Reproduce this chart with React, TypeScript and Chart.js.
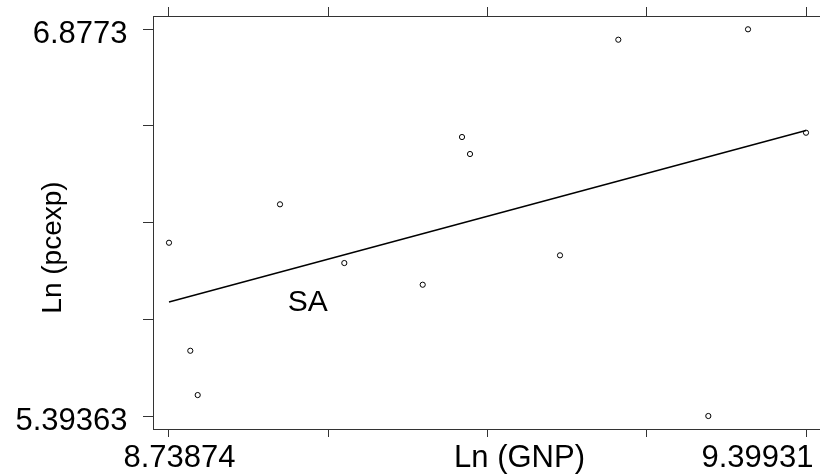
import React, { useEffect, useRef } from "react";
import { Chart, registerables } from "chart.js";

Chart.register(...registerables);

// Observations: Ln (GNP) vs Ln (pcexp)
const lnGnp = [8.73874, 8.76083, 8.7685, 8.85385, 8.92053, 9.00183, 9.04259, 9.05088, 9.14421, 9.20467, 9.29801, 9.33917, 9.39931];
const lnPcexp = [6.0584, 5.644, 5.474, 6.2058, 5.9805, 5.8973, 6.464, 6.3988, 6.0101, 6.8374, 5.39363, 6.8773, 6.4805];

// Fitted line end points
const fitX = [8.73874, 9.39931];
const fitY = [5.8309, 6.489];

// Axis ticks and labels
const xTicks = [8.73874, 8.90388, 9.06903, 9.23417, 9.39931];
const yTicks = [5.39363, 5.76455, 6.13547, 6.50638, 6.8773];
const xTickLabels = ["8.73874", "", "", "", "9.39931"];
const yTickLabels = ["5.39363", "", "", "", "6.8773"];
const xTitle = "Ln (GNP)";
const yTitle = "Ln (pcexp)";
const noteText = "SA";
const noteX = 8.88268;
const noteY = 5.7975;

const X_MIN = 8.72215;
const X_MAX = 9.41382;
const Y_MIN = 5.34377;
const Y_MAX = 6.92833;

const FONT = '"Liberation Sans", Arial, Helvetica, sans-serif';
const AXIS_COLOR = "#333";

const textPlugin = {
  id: "textPlugin",
  afterDraw(chart: any) {
    const ctx = chart.ctx;
    const xs = chart.scales.x;
    const ys = chart.scales.y;
    const area = chart.chartArea;
    ctx.save();
    ctx.fillStyle = "#000";

    // y tick labels
    ctx.font = `31px ${FONT}`;
    ctx.textAlign = "right";
    ctx.textBaseline = "alphabetic";
    yTicks.forEach((v, i) => {
      if (!yTickLabels[i]) return;
      const py = ys.getPixelForValue(v);
      ctx.fillText(yTickLabels[i], area.left - 25.5, py + 14);
    });

    // x tick labels and title
    ctx.textAlign = "center";
    const baseY = area.bottom + 37.5;
    const first = xs.getPixelForValue(xTicks[0]);
    const last = xs.getPixelForValue(xTicks[xTicks.length - 1]);
    const mid = xs.getPixelForValue(xTicks[2]);
    ctx.fillText(xTickLabels[0], first + 10.5, baseY);
    ctx.fillText(xTickLabels[xTickLabels.length - 1], last - 48.5, baseY);
    ctx.fillText(xTitle, mid + 32, baseY);

    // y title
    ctx.save();
    ctx.font = `28px ${FONT}`;
    ctx.translate(61, (area.top + area.bottom) / 2 + 25);
    ctx.rotate(-Math.PI / 2);
    ctx.textAlign = "center";
    ctx.fillText(yTitle, 0, 0);
    ctx.restore();

    // annotation
    ctx.font = `30px ${FONT}`;
    ctx.textAlign = "center";
    ctx.fillText(noteText, xs.getPixelForValue(noteX), ys.getPixelForValue(noteY));

    ctx.restore();
  },
};

export default function App() {
  const ref = useRef<HTMLCanvasElement | null>(null);

  useEffect(() => {
    if (!ref.current) return;
    const tickSetter = (vals: number[]) => (s: any) => {
      s.ticks = vals.map((v) => ({ value: v }));
    };
    const chart = new Chart(ref.current, {
      type: "scatter",
      data: {
        datasets: [
          {
            type: "line",
            data: fitX.map((x, i) => ({ x, y: fitY[i] })),
            borderColor: "#000",
            borderWidth: 1.4,
            pointRadius: 0,
            fill: false,
            tension: 0,
          } as any,
          {
            type: "scatter",
            data: lnGnp.map((x, i) => ({ x, y: lnPcexp[i] })),
            pointStyle: "circle",
            pointRadius: 2.6,
            borderColor: "#000",
            borderWidth: 1,
            backgroundColor: "rgba(0,0,0,0)",
          } as any,
        ],
      },
      options: {
        responsive: false,
        animation: false,
        devicePixelRatio: 1,
        layout: { padding: 0, autoPadding: false },
        plugins: { legend: { display: false }, tooltip: { enabled: false } },
        scales: {
          x: {
            type: "linear",
            position: "bottom",
            min: X_MIN,
            max: X_MAX,
            afterBuildTicks: tickSetter(xTicks),
            ticks: { display: false },
            grid: { drawOnChartArea: false, drawTicks: true, tickLength: 8, color: AXIS_COLOR, lineWidth: 1 },
            border: { display: true, color: AXIS_COLOR, width: 1 },
            afterFit: (s: any) => {
              s.height = 47;
            },
          },
          x2: {
            type: "linear",
            axis: "x",
            position: "top",
            min: X_MIN,
            max: X_MAX,
            afterBuildTicks: tickSetter(xTicks),
            ticks: { display: false },
            grid: { drawOnChartArea: false, drawTicks: true, tickLength: 9, color: AXIS_COLOR, lineWidth: 1 },
            border: { display: true, color: AXIS_COLOR, width: 1 },
            afterFit: (s: any) => {
              s.height = 16;
            },
          },
          y: {
            type: "linear",
            position: "left",
            min: Y_MIN,
            max: Y_MAX,
            afterBuildTicks: tickSetter(yTicks),
            ticks: { display: false },
            grid: { drawOnChartArea: false, drawTicks: true, tickLength: 10, color: AXIS_COLOR, lineWidth: 1 },
            border: { display: true, color: AXIS_COLOR, width: 1 },
            afterFit: (s: any) => {
              s.width = 153;
            },
          },
        },
      } as any,
      plugins: [textPlugin],
    });
    return () => chart.destroy();
  }, []);

  return (
    <div style={{ position: "absolute", left: 0, top: 0, width: 820, height: 476, background: "#fff" }}>
      <canvas ref={ref} width={820} height={476} />
    </div>
  );
}
